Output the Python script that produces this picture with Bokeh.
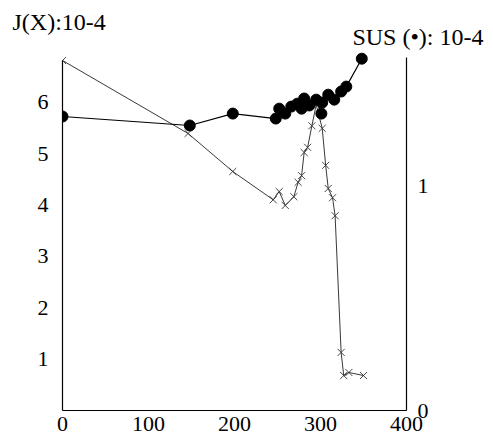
from bokeh.plotting import figure
from bokeh.models import Range1d, LinearAxis, FixedTicker, Title
from bokeh.embed import file_html
from bokeh.resources import INLINE

# J(X) series (crosses, left axis, units 10-4)
jx_x = [0, 146, 198, 245, 252, 259, 269, 274, 278, 281, 285, 290, 295, 302, 306, 309, 314, 317, 324, 327, 333, 350]
jx_y = [6.81, 5.39, 4.65, 4.10, 4.26, 3.99, 4.16, 4.44, 4.57, 5.02, 5.12, 5.54, 5.95, 5.49, 4.77, 4.32, 4.14, 3.79, 1.13, 0.68, 0.74, 0.68]

# SUS series (dots, right axis, units 10-4)
sus_x = [0, 148, 198, 248, 252, 259, 266, 273, 278, 281, 287, 295, 301, 302, 309, 316, 324, 330, 348]
sus_y = [1.307, 1.267, 1.320, 1.298, 1.342, 1.320, 1.351, 1.364, 1.342, 1.387, 1.356, 1.382, 1.320, 1.369, 1.404, 1.382, 1.418, 1.440, 1.564]

x_ticks = [0, 100, 200, 300, 400]
left_ticks = [1, 2, 3, 4, 5, 6]
right_ticks = [0, 1]
left_axis_top = 6.81
right_axis_top = 1.569

FONT = "Liberation Serif"

W, H = 490, 436
p = figure(width=W, height=H, output_backend="svg", toolbar_location=None,
           x_range=Range1d(0, 400), y_range=Range1d(0, 6.985),
           min_border_left=62, min_border_right=84, min_border_top=51, min_border_bottom=26,
           title="J(X):10-4")
p.extra_y_ranges = {"sus": Range1d(0, 1.596)}

p.title.align = "left"
p.title.vertical_align = "top"
p.title.offset = -50
p.title.standoff = -27
p.title.text_font = FONT
p.title.text_font_size = "24px"
p.title.text_font_style = "normal"
p.title.text_color = "black"

sus_title = Title(text="SUS (\u2022): 10-4", align="right", vertical_align="top", offset=-77,
                  standoff=0, text_font=FONT, text_font_size="24px",
                  text_font_style="normal", text_color="black")
p.add_layout(sus_title, "above")

p.xgrid.visible = False
p.ygrid.visible = False
p.outline_line_color = None
p.background_fill_color = "white"
p.border_fill_color = "white"

for ax in [p.xaxis[0], p.yaxis[0]]:
    ax.axis_line_color = "black"
    ax.axis_line_width = 1.2
    ax.major_tick_line_color = None
    ax.minor_tick_line_color = None
    ax.major_label_text_font = FONT
    ax.major_label_text_font_size = "22px"
    ax.major_label_text_color = "black"

p.xaxis[0].ticker = FixedTicker(ticks=x_ticks)
p.xaxis[0].major_label_standoff = 0
p.yaxis[0].ticker = FixedTicker(ticks=left_ticks)
p.yaxis[0].major_label_standoff = 8
p.yaxis[0].bounds = (0, left_axis_top)

ra = LinearAxis(y_range_name="sus", ticker=FixedTicker(ticks=right_ticks))
ra.axis_line_color = "black"
ra.axis_line_width = 1.2
ra.major_tick_line_color = None
ra.minor_tick_line_color = None
ra.major_label_text_font = FONT
ra.major_label_text_font_size = "22px"
ra.major_label_text_color = "black"
ra.major_label_standoff = 5
ra.major_label_text_baseline = "alphabetic"
ra.bounds = (0, right_axis_top)
p.add_layout(ra, "right")

# J(X) crosses
p.line(jx_x, jx_y, line_color="#222222", line_width=0.9)
p.scatter(jx_x, jx_y, marker="x", size=10, line_color="#333333", line_width=0.9)

# SUS dots
p.line(sus_x, sus_y, y_range_name="sus", line_color="black", line_width=1.2)
p.scatter(sus_x, sus_y, y_range_name="sus", marker="circle", size=11,
          fill_color="black", line_color="black")

open("out.html", "w").write(file_html(p, INLINE))
